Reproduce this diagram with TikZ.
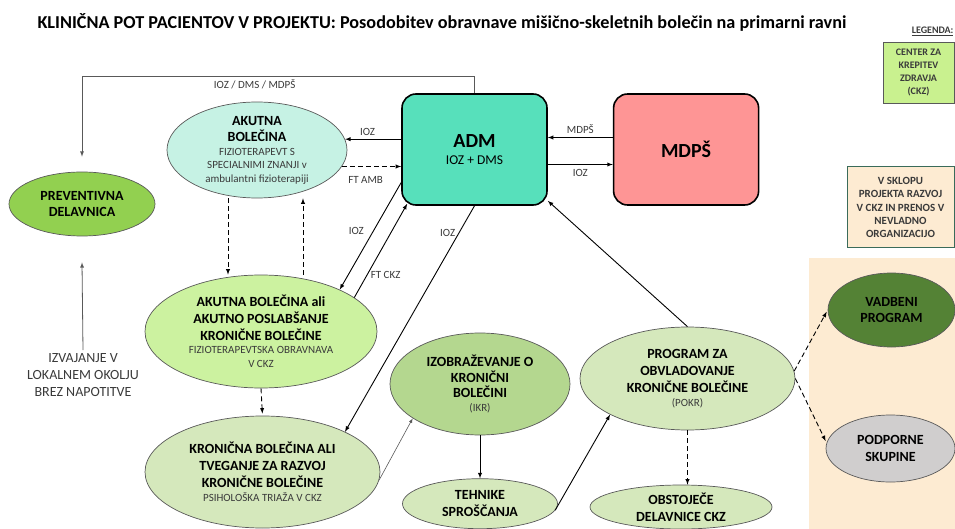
\documentclass[tikz,border=0pt]{standalone}
\usepackage{fontspec}
\setmainfont{Carlito}
\usetikzlibrary{arrows,shapes.geometric,positioning}

\definecolor{admgreen}{HTML}{57E0BB}
\definecolor{mdpsred}{HTML}{FE9595}
\definecolor{acutecyan}{HTML}{C6F2E4}
\definecolor{prevgreen}{HTML}{92D050}
\definecolor{limegreen}{HTML}{CCF2A0}
\definecolor{sagegreen}{HTML}{D5E8BC}
\definecolor{midgreen}{HTML}{B4D78F}
\definecolor{darkgreen}{HTML}{548235}
\definecolor{podpgray}{HTML}{D0CECE}
\definecolor{peach}{HTML}{FDEBD2}
\definecolor{ckzgreen}{HTML}{C9F18F}
\definecolor{boxedge}{HTML}{3A6B5A}
\definecolor{txtgray}{HTML}{3A3A3A}
\definecolor{edgegray}{HTML}{595959}

\newcommand{\sm}[1]{{\fontsize{11}{13.3}\selectfont\mdseries\color{txtgray}#1}}

\tikzset{
  blob/.style={ellipse, draw=edgegray, line width=0.7pt, inner sep=0pt, align=center,
               font=\fontsize{14}{16.7}\selectfont\bfseries},
  block/.style={draw=black, line width=1.6pt, rounded corners=14pt, minimum width=145pt,
                minimum height=111pt, align=center, font=\fontsize{13.5}{17}\selectfont},
  lbl/.style={font=\fontsize{11}{13}\selectfont, text=txtgray},
  legbox/.style={align=center, font=\fontsize{10}{13.3}\selectfont\bfseries, text=txtgray},
  dashy/.style={dash pattern=on 5pt off 3pt}
}

\begin{document}
\begin{tikzpicture}[x=1pt,y=-1pt,>=latex,auto,node distance=65pt]
  \useasboundingbox (0,0) rectangle (955,529);
  \fill[peach] (809,258) rectangle (955,529);

  \node[anchor=west, font=\fontsize{18.2}{21}\selectfont\bfseries] (title) at (34,22)
    {KLINIČNA POT PACIENTOV V PROJEKTU: Posodobitev obravnave mišično-skeletnih bolečin na primarni ravni};

  % legenda
  \node[anchor=east, font=\fontsize{10}{12}\selectfont\bfseries, text=txtgray] (legend) at (957,31) {\underline{LEGENDA:}};
  \node[legbox, draw=edgegray, fill=ckzgreen, minimum width=71pt, minimum height=61pt] (ckz) at (918.5,72.5)
    {CENTER ZA\\KREPITEV\\ZDRAVJA\\(CKZ)};
  \node[legbox, draw=boxedge, line width=1pt, fill=peach, minimum width=107pt, minimum height=81pt,
        font=\fontsize{11}{13.3}\selectfont\bfseries] (sklop) at (900.5,207.5)
    {V SKLOPU\\PROJEKTA RAZVOJ\\V CKZ IN PRENOS V\\NEVLADNO\\ORGANIZACIJO};

  % glavna vozlisca
  \node[block, fill=admgreen] (adm) at (474.5,149.5)
    {{\fontsize{20}{22}\selectfont\bfseries ADM}\\IOZ + DMS};
  \node[block, fill=mdpsred] (mdps) [right=65pt of adm] {\fontsize{20}{24}\selectfont\bfseries MDPŠ};

  \node[blob, fill=acutecyan, minimum width=180pt, minimum height=96pt] (akutna) at (257,150)
    {AKUTNA\\BOLEČINA\\[-3.3pt]\sm{FIZIOTERAPEVT S}\\[-3.3pt]\sm{SPECIALNIMI ZNANJI v}\\[-3.3pt]\sm{ambulantni fizioterapiji}};
  \node[blob, fill=prevgreen, minimum width=146pt, minimum height=64pt] (prev) at (82,204)
    {PREVENTIVNA\\DELAVNICA};
  \node[align=center, font=\fontsize{14}{16.7}\selectfont, text=txtgray] (izv) at (83,375)
    {IZVAJANJE V\\LOKALNEM OKOLJU\\BREZ NAPOTITVE};

  \node[blob, fill=limegreen, minimum width=232pt, minimum height=113pt] (akali) at (261,331.5)
    {AKUTNA BOLEČINA ali\\AKUTNO POSLABŠANJE\\KRONIČNE BOLEČINE\\[-3.3pt]\sm{FIZIOTERAPEVTSKA OBRAVNAVA}\\[-2.7pt]\sm{V CKZ}};
  \node[blob, fill=sagegreen, minimum width=235pt, minimum height=112pt] (kron) at (262.5,472)
    {KRONIČNA BOLEČINA ALI\\TVEGANJE ZA RAZVOJ\\KRONIČNE BOLEČINE\\[-2.3pt]\sm{PSIHOLOŠKA TRIAŽA V CKZ}};

  \node[blob, fill=midgreen, minimum width=180pt, minimum height=102pt] (izob) at (480,384)
    {IZOBRAŽEVANJE O\\KRONIČNI\\[-1.7pt]BOLEČINI\\[-2.7pt]\sm{(IKR)}};
  \node[blob, fill=sagegreen, minimum width=155pt, minimum height=50pt] (teh) [below=43pt of izob]
    {TEHNIKE\\SPROŠČANJA};
  \node[blob, fill=sagegreen, minimum width=215pt, minimum height=103pt] (pokr) at (687.5,378.5)
    {PROGRAM ZA\\OBVLADOVANJE\\KRONIČNE BOLEČINE\\[-2.7pt]\sm{(POKR)}};
  \node[blob, fill=sagegreen, minimum width=182pt, minimum height=44pt] (obst) at (681,507)
    {OBSTOJEČE\\DELAVNICE CKZ};

  \node[blob, fill=darkgreen, minimum width=127pt, minimum height=74pt] (vadb) at (891.5,310)
    {VADBENI\\PROGRAM};
  \node[blob, fill=podpgray, minimum width=129pt, minimum height=67pt] (podp) at (890.5,448.5)
    {PODPORNE\\SKUPINE};

  % povezave
  \draw[->, edgegray, line width=0.8pt] (adm.north) -- ++(0,-17)
    -| node[pos=0.28, below, lbl] {IOZ / DMS / MDPŠ} ([yshift=15pt]prev.north);
  \draw[->, edgegray, line width=0.8pt] (izv.north) -- ([yshift=-26pt]prev.south);

  \path[->, line width=0.9pt] (akutna.7 -| adm.west) edge node[above, lbl, pos=0.6] {IOZ} (akutna.7);
  \path[->, line width=0.9pt, dashy] (akutna.-11) edge node[below=6pt, lbl, pos=0.4] {FT AMB} (akutna.-11 -| adm.west);
  \path[->, line width=0.9pt] ([yshift=12pt]mdps.west) edge node[above, lbl] {MDPŠ} ([yshift=12pt]adm.east);
  \path[->, line width=0.9pt] ([yshift=-15pt]adm.east) edge node[below=1pt, lbl] {IOZ} ([yshift=-15pt]mdps.west);

  \path[->, line width=0.9pt] ([yshift=-33pt]adm.west) edge node[left=6pt, lbl, pos=0.45] {IOZ} (akali.28);
  \path[->, line width=0.9pt] (akali.20) edge node[right, lbl, pos=0.24] {FT CKZ} ([xshift=6pt,yshift=2pt]adm.south west);
  \path[->, line width=0.9pt] (adm.south) edge node[left, lbl, pos=0.12] {IOZ} (kron.26);
  \path[->, line width=0.9pt] (pokr.north) edge (adm.-35);

  \path[->, edgegray, line width=0.6pt] (kron.-4) edge (izob.207);
  \path[->, line width=0.9pt] (izob) edge (teh);
  \path[->, line width=0.9pt] (teh.-5) edge (pokr.205);

  \path[->, line width=0.9pt, dashy] ([xshift=-29pt]akutna.south) edge ([xshift=-33pt]akali.north);
  \path[->, line width=0.9pt, dashy] ([xshift=42pt]akali.north) edge ([xshift=46pt]akutna.south);
  \path[->, line width=0.9pt, dashy] (pokr.south) edge (pokr.south |- obst.north);

  \foreach \from/\to in {akali.south/kron.north, pokr.4/vadb.west, pokr.east/podp.175}
    {
    \path[->, line width=0.9pt, dashy, shorten >=2pt] (\from) edge (\to);
    }
\end{tikzpicture}
\end{document}
